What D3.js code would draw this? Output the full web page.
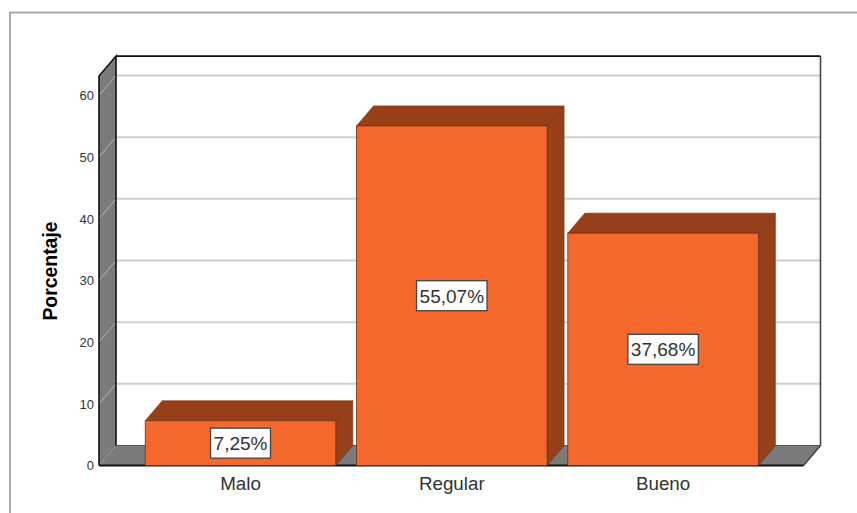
<!DOCTYPE html>
<html><head><meta charset="utf-8">
<script src="https://cdn.jsdelivr.net/npm/d3@7/dist/d3.min.js"></script>
<style>html,body{margin:0;background:#fff}svg{display:block}text{font-family:"Liberation Sans",Arial,sans-serif}</style>
</head><body><svg id="c" width="857" height="513"></svg>
<script>
const categories = ["Malo", "Regular", "Bueno"];
const values = [7.25, 55.07, 37.68];
const valueLabels = ["7,25%", "55,07%", "37,68%"];
const yTicks = [0, 10, 20, 30, 40, 50, 60];

const svg = d3.select("#c");
const dx = 17, dy = -20;
const left = 99, right = 803.5, base = 465.5;
const y = d3.scaleLinear().domain([0, 60]).range([base, 95.5]);
const yTop = 63.15;
const x = d3.scaleBand().domain(categories).range([99.8, 803.8]).paddingInner(0.098).paddingOuter(0.215);
const poly = pts => pts.map(p => p.join(",")).join(" ");

// outer frame
svg.append("path").attr("d", "M857,12.5H10V513").attr("fill", "none").attr("stroke", "#a9a9a9").attr("stroke-width", 2);

// back wall
svg.append("rect").attr("x", left + dx).attr("y", y(yTop) + dy).attr("width", right - left).attr("height", y(0) - y(yTop))
  .attr("fill", "#fff");

// left wall and floor
svg.append("polygon").attr("points", poly([[left, y(0)], [left, y(yTop)], [left + dx, y(yTop) + dy], [left + dx, y(0) + dy]]))
  .attr("fill", "#7b7b7b");
svg.append("polygon").attr("points", poly([[left, y(0)], [right, y(0)], [right + dx, y(0) + dy], [left + dx, y(0) + dy]]))
  .attr("fill", "#7b7b7b");

// gridlines
const grid = svg.append("g");
yTicks.filter(t => t > 0).forEach(t => {
  grid.append("line").attr("x1", left + dx).attr("x2", right + dx).attr("y1", y(t) + dy).attr("y2", y(t) + dy)
    .attr("stroke", "#cfcfcf").attr("stroke-width", 2);
  grid.append("line").attr("x1", left).attr("x2", left + dx).attr("y1", y(t)).attr("y2", y(t) + dy)
    .attr("stroke", "#b4b4b4").attr("stroke-width", 1);
});

// frame edges
svg.append("path").attr("d", `M${left},${y(0)}V${y(yTop)}L${left + dx},${y(yTop) + dy}V${y(0) + dy}`)
  .attr("fill", "none").attr("stroke", "#111").attr("stroke-width", 1.6);
svg.append("path").attr("d", `M${left + dx},${y(yTop) + dy}H${right + dx}`)
  .attr("fill", "none").attr("stroke", "#111").attr("stroke-width", 1.6);
svg.append("path").attr("d", `M${right + dx},${y(yTop) + dy}V${y(0) + dy}L${right},${y(0)}`)
  .attr("fill", "none").attr("stroke", "#444").attr("stroke-width", 1.6);
svg.append("path").attr("d", `M${left + dx},${y(0) + dy}H${right + dx}`)
  .attr("fill", "none").attr("stroke", "#555").attr("stroke-width", 1);
svg.append("path").attr("d", `M${left},${y(0)}H${right}`)
  .attr("fill", "none").attr("stroke", "#111").attr("stroke-width", 2);

// bars
const rows = categories.map((c, i) => ({c, v: values[i], l: valueLabels[i]}));
const bars = svg.append("g").selectAll("g").data(rows).join("g");
const edge = "#6b3115";
bars.append("polygon").attr("points", d => {
  const a = x(d.c), b = a + x.bandwidth(), t = y(d.v);
  return poly([[a, t], [b, t], [b + dx, t + dy], [a + dx, t + dy]]);
}).attr("fill", "#973f18").attr("stroke", edge).attr("stroke-width", .6);
bars.append("polygon").attr("points", d => {
  const b = x(d.c) + x.bandwidth(), t = y(d.v);
  return poly([[b, t], [b + dx, t + dy], [b + dx, y(0) + dy], [b, y(0)]]);
}).attr("fill", "#973f18").attr("stroke", edge).attr("stroke-width", .6);
bars.append("rect").attr("x", d => x(d.c)).attr("y", d => y(d.v)).attr("width", x.bandwidth()).attr("height", d => y(0) - y(d.v))
  .attr("fill", "#f4682b").attr("stroke", edge).attr("stroke-width", .8);

// value labels
const lab = svg.append("g").selectAll("g").data(rows).join("g")
  .attr("transform", d => `translate(${x(d.c) + x.bandwidth() / 2},${(y(d.v) + y(0)) / 2})`);
const txt = lab.append("text").attr("text-anchor", "middle").attr("dy", "0.36em").attr("font-size", 19).attr("fill", "#333").text(d => d.l);
lab.insert("rect", "text").each(function (d, i) {
  const w = txt.nodes()[i].getComputedTextLength();
  d3.select(this).attr("x", -w / 2 - 3).attr("width", w + 6).attr("y", -15).attr("height", 30);
}).attr("fill", "#fff").attr("stroke", "#444").attr("stroke-width", 1.3);

// axes
const ya = svg.append("g").attr("transform", `translate(${left - 5},0)`).call(d3.axisLeft(y).tickValues(yTicks).tickSize(0).tickPadding(0));
ya.select(".domain").remove();
ya.selectAll("text").attr("font-size", 13).attr("fill", "#333").style("font-family", '"Liberation Sans",Arial,sans-serif');
const xa = svg.append("g").attr("transform", `translate(0,${base + 1})`).call(d3.axisBottom(x).tickSize(0).tickPadding(10));
xa.select(".domain").remove();
xa.selectAll("text").attr("font-size", 18.8).attr("fill", "#333").style("font-family", '"Liberation Sans",Arial,sans-serif');

svg.append("text").attr("transform", "translate(56.5,271) rotate(-90)").attr("text-anchor", "middle")
  .attr("font-size", 19.4).attr("font-weight", "bold").attr("fill", "#000").text("Porcentaje");
</script></body></html>
